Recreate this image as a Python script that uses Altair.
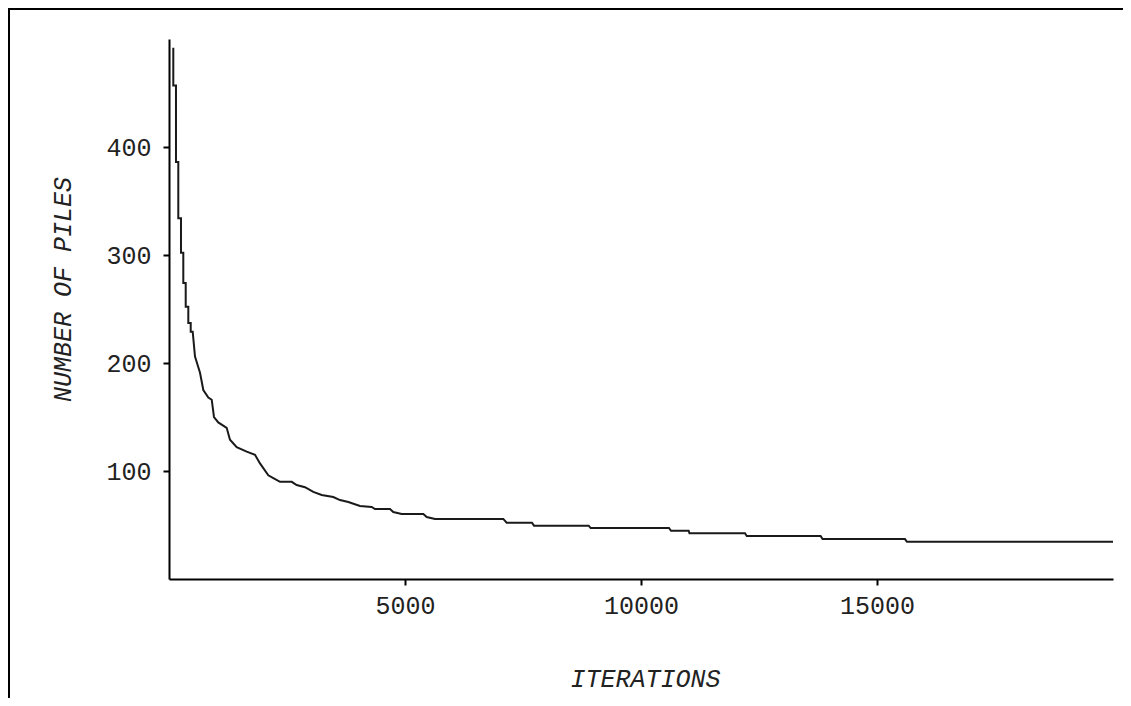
import altair as alt
import pandas as pd

# Curve (iterations, number of piles)
iterations = [91, 91, 148, 148, 197, 197, 254, 254, 303, 303, 354, 354, 409, 409, 460, 460,
              502, 551, 657, 727, 833, 905, 953, 1044, 1222, 1292, 1434, 1646, 1822, 1928,
              2104, 2210, 2352, 2600, 2705, 2881, 3057, 3235, 3481, 3623, 3799, 4047, 4294,
              4364, 4682, 4752, 4930, 5388, 5460, 5636, 7082, 7154, 7690, 7733, 8892, 8934,
              10593, 10635, 11010, 11027, 12203, 12241, 13805, 13847, 15593, 15635, 20000]
piles = [492, 457, 457, 386, 386, 334, 334, 302, 302, 274, 274, 252, 252, 237, 237, 229,
         229, 206, 191, 175, 168, 166, 150, 145, 140, 129, 122, 118, 115, 107,
         96, 93.5, 90, 90, 87, 85, 80.6, 77.8, 75.9, 73.1, 71.3, 67.6, 66.7,
         64.8, 64.8, 62, 60.2, 60.2, 57.4, 55.6, 55.6, 52.1, 52.1, 49.4, 49.4, 47.2,
         47.2, 44.7, 44.7, 42.3, 42.3, 39.8, 39.8, 37, 37, 34.5, 34.5]

x_ticks = [5000, 10000, 15000]
y_ticks = [100, 200, 300, 400]

df = pd.DataFrame({"it": iterations, "piles": piles, "order": list(range(len(piles)))})

FONT = "Liberation Mono"
FS = 25

line = alt.Chart(df).mark_line(color="#1a1a1a", strokeWidth=2).encode(
    x=alt.X("it:Q", scale=alt.Scale(domain=[0, 20000], nice=False, zero=True),
            axis=alt.Axis(title="ITERATIONS", values=x_ticks, format="d", grid=False,
                          domainColor="black", domainWidth=2, tickColor="black",
                          tickWidth=2, tickSize=6, labelPadding=8,
                          labelFont=FONT, labelFontSize=FS, labelColor="#222",
                          titleFont=FONT, titleFontSize=FS, titleFontStyle="italic",
                          titleFontWeight="normal", titleColor="#222",
                          titleX=476, titleY=99, titleBaseline="middle",
                          titleAlign="center")),
    y=alt.Y("piles:Q", scale=alt.Scale(domain=[0, 500], nice=False),
            axis=alt.Axis(title="NUMBER OF PILES", values=y_ticks, format="d", grid=False,
                          domainColor="black", domainWidth=2, tickColor="black",
                          tickWidth=2, tickSize=6, labelPadding=12,
                          labelFont=FONT, labelFontSize=FS, labelColor="#222",
                          titleFont=FONT, titleFontSize=FS, titleFontStyle="italic",
                          titleFontWeight="normal", titleColor="#222",
                          titleX=-107, titleY=250, titleBaseline="middle",
                          titleAlign="center", titleAngle=270)),
    order="order:Q",
)

# Surrounding frame (only its top and left edges fall inside the picture)
frame = alt.Chart(pd.DataFrame({"a": [0]})).mark_rect(
    fill=None, filled=False, stroke="black", strokeWidth=2
).encode(
    x=alt.value(-160), x2=alt.value(1100), y=alt.value(-30), y2=alt.value(800))

chart = alt.layer(line, frame).properties(
    width=944, height=540,
    autosize=alt.AutoSizeParams(type="none"),
    padding={"left": 161, "top": 31, "right": 10, "bottom": 119},
    background="white",
).configure_view(strokeWidth=0)

chart.save("out.html", embed_options={"renderer": "svg", "actions": False})
